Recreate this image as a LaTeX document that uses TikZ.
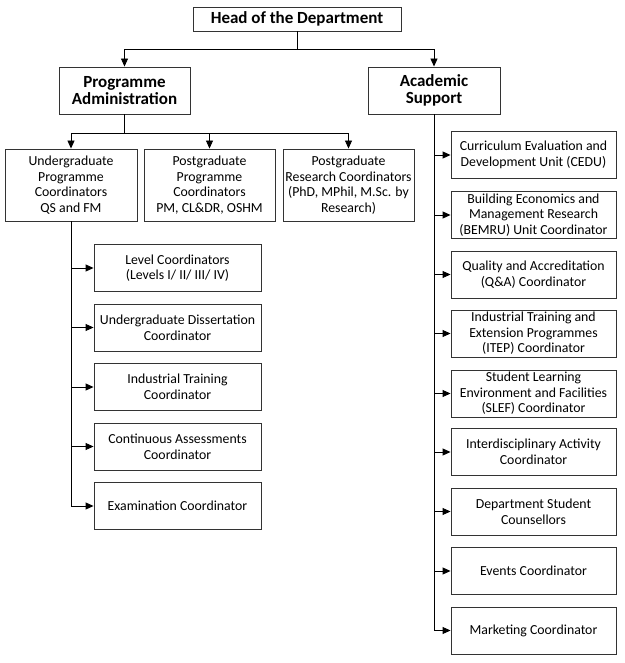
\documentclass[tikz,border=0pt]{standalone}
\usepackage{fontspec}
\setmainfont{Carlito}
\usetikzlibrary{arrows.meta}
\begin{document}
\begin{tikzpicture}[x=1pt,y=-1pt,
  box/.style={draw=black!80, line width=0.9pt, fill=white, align=center, inner sep=1pt,
    font=\fontsize{13.8}{15.6}\selectfont},
  topbox/.style={box, font=\bfseries\fontsize{17}{16.5}\selectfont},
  lbox/.style={box, minimum width=167pt, minimum height=47pt},
  rbox/.style={box, minimum width=165pt, minimum height=47pt},
  cbox/.style={box, minimum height=72pt},
  arr/.style={draw=black, line width=0.9pt, -{Triangle[length=8pt,width=7pt]}}]
\useasboundingbox (0,0) rectangle (624,663);
% top levels
\node[topbox, minimum width=208pt, minimum height=24pt] (head) at (297,19) {Head of the Department};
\node[topbox, minimum width=131pt, minimum height=47pt] (pa) at (124.5,90.5) {Programme\\Administration};
\node[topbox, minimum width=132pt, minimum height=47pt] (as) at (434,90.5) {Academic\\Support};
% programme coordinators
\node[cbox, minimum width=132pt] (ug) at (71,185) {Undergraduate\\Programme\\Coordinators\\QS and FM};
\node[cbox, minimum width=131pt] (pg) at (209.5,185) {Postgraduate\\Programme\\Coordinators\\PM, CL\&DR, OSHM};
\node[cbox, minimum width=131pt] (prc) at (348.5,185) {Postgraduate\\Research Coordinators\\(PhD, MPhil, M.Sc. by\\Research)};
% left children
\node[lbox] (l1) at (177.5,268) {Level Coordinators\\(Levels I/ II/ III/ IV)};
\node[lbox] (l2) at (177.5,327.5) {Undergraduate Dissertation\\Coordinator};
\node[lbox] (l3) at (177.5,387) {Industrial Training\\Coordinator};
\node[lbox] (l4) at (177.5,446.5) {Continuous Assessments\\Coordinator};
\node[lbox] (l5) at (177.5,506) {Examination Coordinator};
% right children
\node[rbox] (r1) at (533.5,155) {Curriculum Evaluation and\\Development Unit (CEDU)};
\node[rbox] (r2) at (533.5,215) {Building Economics and\\Management Research\\(BEMRU) Unit Coordinator};
\node[rbox] (r3) at (533.5,274.5) {Quality and Accreditation\\(Q\&A) Coordinator};
\node[rbox] (r4) at (533.5,333.5) {Industrial Training and\\Extension Programmes\\(ITEP) Coordinator};
\node[rbox] (r5) at (533.5,393.5) {Student Learning\\Environment and Facilities\\(SLEF) Coordinator};
\node[rbox] (r6) at (533.5,452) {Interdisciplinary Activity\\Coordinator};
\node[rbox] (r7) at (533.5,511.5) {Department Student\\Counsellors};
\node[rbox] (r8) at (533.5,571) {Events Coordinator};
\node[rbox] (r9) at (533.5,630.5) {Marketing Coordinator};
% connectors
\coordinate (hbus) at (297,49);
\coordinate (pbus) at (124.5,133);
\draw[arr] (head.south) -- (hbus) -| (pa.north);
\draw[arr] (hbus) -| (as.north);
\draw[arr] (pa.south) -- (pbus) -| (ug.north);
\draw[arr] (pbus) -| (pg.north);
\draw[arr] (pbus) -| (prc.north);
\foreach \n in {l1,l2,l3,l4,l5} \draw[arr] (ug.south) |- (\n.west);
\foreach \n in {r1,r2,r3,r4,r5,r6,r7,r8,r9} \draw[arr] (as.south) |- (\n.west);
\end{tikzpicture}
\end{document}
